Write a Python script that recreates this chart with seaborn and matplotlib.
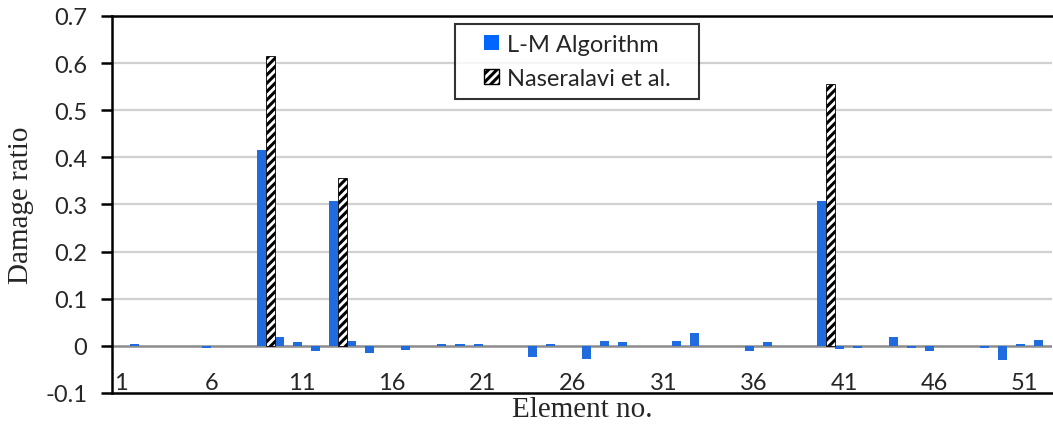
import matplotlib
matplotlib.use('Agg')
import matplotlib.pyplot as plt
from matplotlib.patches import Patch, Rectangle
from matplotlib.legend_handler import HandlerPatch
import pandas as pd
import seaborn as sns

elements = list(range(1, 53))
lm_algorithm = [
    0.0, 0.005, 0.0, 0.0, 0.0, -0.005, 0.0, 0.0, 0.415, 0.018,
    0.008, -0.011, 0.308, 0.010, -0.016, 0.0, -0.008, 0.0, 0.005, 0.005,
    0.005, 0.0, 0.0, -0.024, 0.005, 0.0, -0.027, 0.010, 0.008, 0.0,
    0.0, 0.010, 0.027, 0.0, 0.0, -0.010, 0.008, 0.0, 0.0, 0.308,
    -0.007, -0.005, 0.0, 0.018, -0.005, -0.011, 0.0, 0.0, -0.005, -0.030,
    0.005, 0.013,
]
naseralavi = [0.0] * 52
naseralavi[8] = 0.615
naseralavi[12] = 0.357
naseralavi[39] = 0.555

series_names = ['L-M Algorithm', 'Naseralavi et al.']
xtick_labels = ['1', '6', '11', '16', '21', '26', '31', '36', '41', '46', '51']
ytick_values = [-0.1, 0, 0.1, 0.2, 0.3, 0.4, 0.5, 0.6, 0.7]
ytick_labels = ['-0.1', '0', '0.1', '0.2', '0.3', '0.4', '0.5', '0.6', '0.7']

sns.set_theme(style='white')
plt.rcParams['font.family'] = ['Lato', 'DejaVu Sans']
plt.rcParams['hatch.linewidth'] = 2.2

df = pd.DataFrame({
    'Element': [str(e) for e in elements] * 2,
    'Series': [series_names[0]] * 52 + [series_names[1]] * 52,
    'Damage ratio': lm_algorithm + naseralavi,
})

blue = '#0066FF'
fig = plt.figure(figsize=(10.53, 4.27), dpi=100)
ax = fig.add_axes([0.1064, 0.0773, 0.8926, 0.8829])

sns.barplot(data=df, x='Element', y='Damage ratio', hue='Series',
            palette=[blue, 'white'], width=1.0, gap=0, dodge=True,
            legend=False, ax=ax, zorder=3)

for bar in ax.containers[0]:
    bar.set_edgecolor('none')
for bar in ax.containers[1]:
    if bar.get_height() == 0:
        bar.set_visible(False)
        continue
    bar.set_facecolor('white')
    bar.set_hatch('////')
    bar.set_edgecolor('black')
    bar.set_linewidth(0.6)

ax.set_ylim(-0.1, 0.7)
ax.set_xlim(-0.5, 51.5)
ax.set_yticks(ytick_values, ytick_labels)
ax.set_xticks(range(0, 52, 5), xtick_labels)

for v in ytick_values[2:-1]:
    ax.axhline(v, color='#d0d0d0', lw=1.6, zorder=1)
ax.axhline(0, color='#8c8c8c', lw=1.8, zorder=2)

for side in ['left', 'top', 'bottom']:
    ax.spines[side].set_color('black')
    ax.spines[side].set_linewidth(1.8)
ax.spines['right'].set_visible(False)

ax.tick_params(axis='y', left=True, direction='out', length=8, width=1.8,
               color='black', labelsize=17, pad=10)
ax.tick_params(axis='x', bottom=False, length=0, labelsize=17, pad=-15)

ax.set_xlabel('Element no.', family='Liberation Serif', fontsize=21, labelpad=2)
ax.set_ylabel('Damage ratio', family='Liberation Serif', fontsize=21, labelpad=8)


# small square sitting at the right end of the handle box
def right_square(legend, orig_handle, xdescent, ydescent, width, height, fontsize):
    return Rectangle((-xdescent + width - height, -ydescent), height, height)


handles = [
    Patch(facecolor=blue, edgecolor='none', label=series_names[0] + '   '),
    Patch(facecolor='white', edgecolor='black', hatch='////',
          label=series_names[1] + '   '),
]
leg = ax.legend(handles=handles, loc='upper left', bbox_to_anchor=(0.365, 0.979),
                borderaxespad=0, fontsize=17, frameon=True, fancybox=False,
                handlelength=1.44, handleheight=0.6, handletextpad=0.34,
                borderpad=0.42, labelspacing=0.55,
                handler_map={Patch: HandlerPatch(patch_func=right_square)})
leg.get_frame().set_edgecolor('black')
leg.get_frame().set_linewidth(1.5)

fig.savefig('out.png', dpi=100)
